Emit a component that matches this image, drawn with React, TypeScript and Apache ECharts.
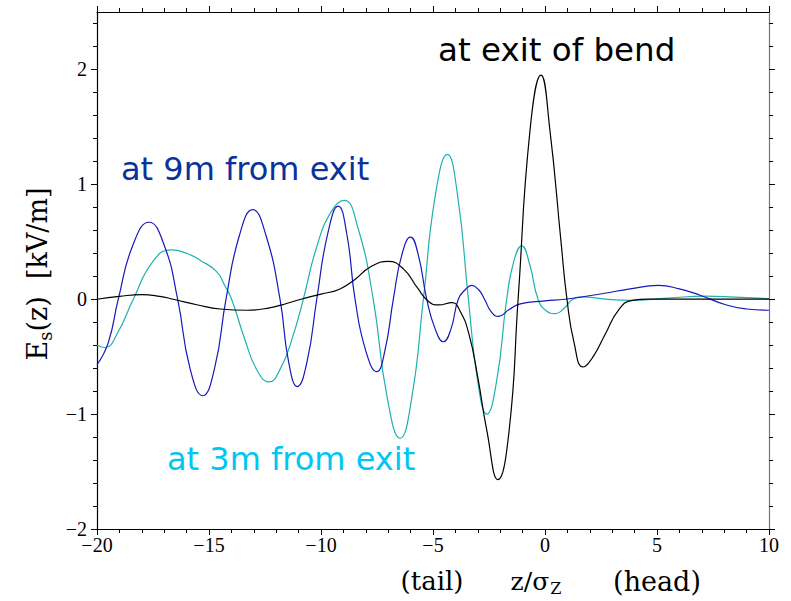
import React, { useEffect, useRef } from "react";
import * as echarts from "echarts";

// "at exit of bend" (black)
const zBlack = [-20, -19, -18, -17.2, -16.6, -15.5, -14.5, -13.3, -12.3, -11.5, -10.9, -10, -9.2, -8.5, -7.8, -7.0, -6.3, -5.7, -5.2, -4.75, -4.15, -3.8, -3.4, -3.0, -2.6, -2.1, -1.6, -1.2, -0.67, -0.18, 0.22, 0.71, 0.98, 1.3, 1.7, 2.15, 2.7, 3.3, 3.9, 4.6, 10];
const eBlack = [0, 0.025, 0.04, 0.025, 0, -0.05, -0.085, -0.096, -0.075, -0.035, 0, 0.045, 0.085, 0.17, 0.28, 0.33, 0.26, 0.1, -0.02, -0.05, -0.03, -0.1, -0.3, -0.68, -1.14, -1.57, -1.14, 0, 1.47, 1.95, 1.47, 0.51, 0, -0.38, -0.59, -0.5, -0.3, -0.09, -0.01, 0, 0];

// "at 9m from exit" (blue)
const zBlue = [-20, -19.5, -19.05, -18.4, -17.68, -17.0, -16.4, -15.85, -15.28, -14.75, -14.24, -13.65, -13.05, -12.45, -11.83, -11.45, -11.06, -10.62, -10.19, -9.7, -9.23, -8.85, -8.48, -8.0, -7.51, -7.15, -6.77, -6.4, -6.0, -5.65, -5.28, -4.9, -4.54, -4.2, -3.87, -3.55, -3.27, -2.95, -2.7, -2.4, -2.08, -1.6, -1.1, 0, 0.9, 2.6, 3.8, 5.06, 6.0, 6.92, 8.1, 9.0, 10];
const eBlue = [-0.57, -0.38, 0, 0.47, 0.67, 0.47, 0, -0.6, -0.84, -0.6, 0, 0.55, 0.78, 0.55, 0, -0.54, -0.76, -0.54, 0, 0.57, 0.81, 0.57, 0, -0.45, -0.63, -0.45, 0, 0.38, 0.54, 0.38, 0, -0.26, -0.37, -0.26, 0, 0.085, 0.12, 0.08, 0, -0.11, -0.15, -0.09, -0.04, -0.015, 0, 0.05, 0.09, 0.12, 0.09, 0.035, -0.05, -0.085, -0.096];

// "at 3m from exit" (cyan)
const zCyan = [-20, -19.64, -19.1, -18.38, -17.5, -16.67, -16.0, -15.4, -14.66, -14.3, -13.99, -13.4, -12.85, -12.32, -11.8, -11.3, -10.79, -10.2, -9.55, -8.97, -8.35, -7.67, -7.05, -6.47, -5.95, -5.43, -4.9, -4.36, -3.9, -3.42, -3.0, -2.6, -2.15, -1.71, -1.38, -1.04, -0.68, -0.31, 0.05, 0.47, 0.85, 1.25, 1.71, 2.5, 3.8, 5.5, 7.2, 8.5, 10];
const eCyan = [-0.4, -0.42, -0.3, 0, 0.33, 0.43, 0.4, 0.34, 0.24, 0.12, 0, -0.35, -0.62, -0.72, -0.6, -0.35, 0, 0.45, 0.76, 0.86, 0.62, 0, -0.85, -1.21, -0.86, 0, 0.9, 1.26, 0.9, 0, -0.72, -1.0, -0.7, 0, 0.34, 0.465, 0.3, 0, -0.1, -0.125, -0.08, 0, 0.02, 0.005, -0.01, 0.01, 0.027, 0.018, 0.005];

const yMajor = [-2, -1, 0, 1, 2];
const yMinor = [-1.8, -1.6, -1.4, -1.2, -0.8, -0.6, -0.4, -0.2, 0.2, 0.4, 0.6, 0.8, 1.2, 1.4, 1.6, 1.8, 2.2, 2.4];

const zip = (xs: number[], ys: number[]) => xs.map((x, i) => [x, ys[i]]);
const minus = (v: number) => String(v).replace("-", "\u2212");

export default function App() {
  const ref = useRef<HTMLDivElement>(null);
  useEffect(() => {
    if (!ref.current) return;
    const chart = echarts.init(ref.current, undefined, { renderer: "svg" });
    const tickFont = { fontFamily: "Liberation Serif", fontSize: 20, color: "#000" };
    const xBase = (pos: "bottom" | "top", color: string) => ({
      type: "value",
      min: -20,
      max: 10,
      interval: 5,
      position: pos,
      axisLine: { show: true, onZero: false, lineStyle: { color, width: 1.2 } },
      axisTick: { show: true, inside: false, length: 6, lineStyle: { color: "#000" } },
      minorTick: { show: true, splitNumber: 5, length: 4, lineStyle: { color: "#000" } },
      splitLine: { show: false },
      minorSplitLine: { show: false },
      axisLabel: pos === "bottom"
        ? { show: true, ...tickFont, margin: 6, formatter: (v: number) => minus(v) }
        : { show: false },
    });
    const yBase = (pos: "left" | "right", major: boolean, color: string) => ({
      type: "value",
      min: -2,
      max: 2.5,
      interval: 1,
      position: pos,
      axisLine: { show: major, onZero: false, lineStyle: { color, width: 1.2 } },
      axisTick: {
        show: true,
        inside: false,
        length: major ? 6 : 4,
        customValues: major ? yMajor : yMinor,
        lineStyle: { color: "#000" },
      },
      splitLine: { show: false },
      axisLabel: major && pos === "left"
        ? { show: true, ...tickFont, margin: 10, customValues: yMajor, formatter: (v: number) => minus(v) }
        : { show: false },
    });
    const line = (data: number[][], color: string) => ({
      type: "line",
      data,
      xAxisIndex: 0,
      yAxisIndex: 0,
      showSymbol: false,
      smooth: 0.5,
      lineStyle: { color, width: 1.2 },
      silent: true,
    });
    chart.setOption({
      animation: false,
      backgroundColor: "#fff",
      grid: { left: 97, top: 12, right: 22, bottom: 72, containLabel: false },
      xAxis: [xBase("bottom", "#000"), xBase("top", "#000")],
      yAxis: [
        yBase("left", true, "#000"),
        yBase("left", false, "#000"),
        yBase("right", true, "#777"),
        yBase("right", false, "#777"),
      ],
      series: [
        line(zip(zCyan, eCyan), "#20b0b0"),
        line(zip(zBlue, eBlue), "#1818b8"),
        line(zip(zBlack, eBlack), "#000"),
      ],
      graphic: [
        { type: "text", left: 438, top: 33, style: { text: "at exit of bend", fontFamily: "DejaVu Sans", fontSize: 32.5, fill: "#000" } },
        { type: "text", left: 121, top: 153, style: { text: "at 9m from exit", fontFamily: "DejaVu Sans", fontSize: 32, fill: "#0a329c" } },
        { type: "text", left: 167, top: 443, style: { text: "at 3m from exit", fontFamily: "DejaVu Sans", fontSize: 32, fill: "#00c6f2" } },
        {
          type: "text",
          x: 37,
          y: 274,
          rotation: Math.PI / 2,
          style: {
            text: "{a|E}{s|s}{a|(z)  [kV/m]}",
            textAlign: "center",
            textVerticalAlign: "middle",
            fill: "#000",
            rich: {
              a: { fontFamily: "DejaVu Serif", fontSize: 27, lineHeight: 34, verticalAlign: "middle" },
              s: { fontFamily: "DejaVu Serif", fontSize: 18, lineHeight: 18, padding: [16, 0, 0, 0], verticalAlign: "middle" },
            },
          },
        },
        { type: "text", x: 432, y: 581, style: { text: "(tail)", fontFamily: "DejaVu Serif", fontSize: 26, fill: "#000", textAlign: "center", textVerticalAlign: "middle" } },
        {
          type: "text",
          x: 536,
          y: 581,
          style: {
            text: "{a|z/σ}{s|Z}",
            textAlign: "center",
            textVerticalAlign: "middle",
            fill: "#000",
            rich: {
              a: { fontFamily: "DejaVu Serif", fontSize: 25, lineHeight: 30, verticalAlign: "middle" },
              s: { fontFamily: "DejaVu Serif", fontSize: 16, lineHeight: 16, padding: [14, 0, 0, 1], verticalAlign: "middle" },
            },
          },
        },
        { type: "text", x: 657, y: 581, style: { text: "(head)", fontFamily: "DejaVu Serif", fontSize: 27, fill: "#000", textAlign: "center", textVerticalAlign: "middle" } },
      ],
    });
    return () => chart.dispose();
  }, []);
  return <div ref={ref} style={{ width: 791, height: 601, position: "absolute", left: 0, top: 0 }} />;
}
